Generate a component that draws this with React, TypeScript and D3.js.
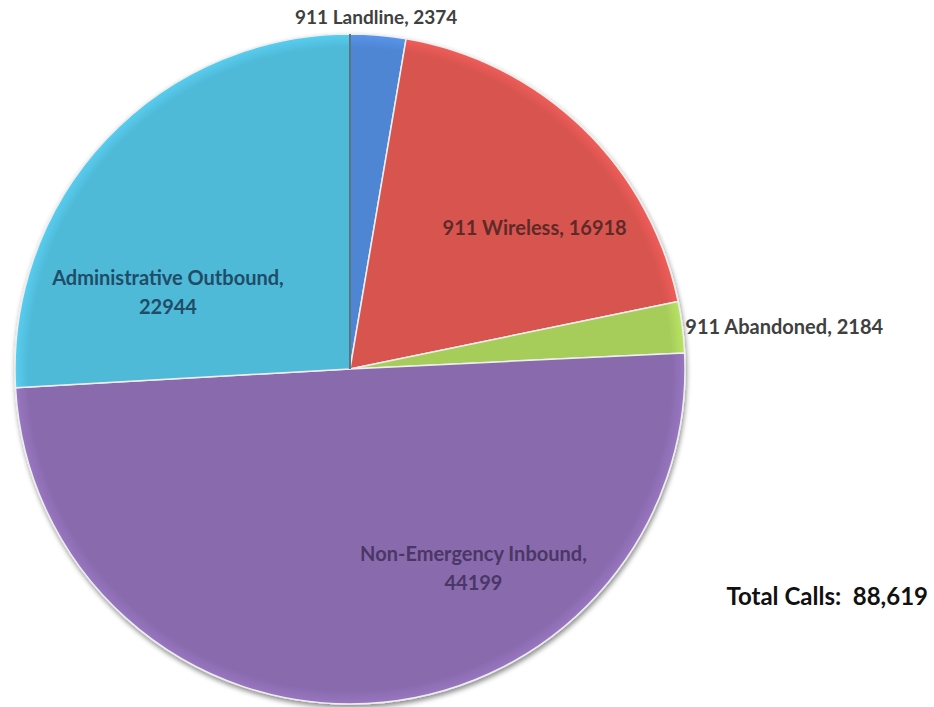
import React, { useEffect, useRef } from 'react';
import * as d3 from 'd3';

const categories = ['911 Landline', '911 Wireless', '911 Abandoned', 'Non-Emergency Inbound', 'Administrative Outbound'];
const calls = [2374, 16918, 2184, 44199, 22944];
const fills = ['#4f86d4', '#d8544f', '#a6cd5a', '#896aad', '#4fb9d8'];
const labelColors = ['#404040', '#5e2a28', '#404040', '#4a3766', '#1f4c66'];
const totalLabel = 'Total Calls:  88,619';

const WIDTH = 934;
const HEIGHT = 707;
const CX = 350;
const CY = 369;
const R = 335;

// label placement per slice: radius factor, dx, dy, anchor, font size, two lines?
const LABEL_SETUP: [number, number, number, string, number, boolean][] = [
  [1.0, -2, -11, 'middle', 19, false],
  [0.6, 45, 11, 'middle', 20, false],
  [1.0, 3, 7, 'start', 20, false],
  [0.6, 113, -9, 'middle', 20, true],
  [0.6, -36, 54, 'middle', 20, true],
];

const App = () => {
  const svgRef = useRef<SVGSVGElement | null>(null);

  useEffect(() => {
    if (!svgRef.current) return;
    const svg = d3.select(svgRef.current);
    svg.selectAll('*').remove();

    const data = categories.map((c, i) => ({ name: c, value: calls[i], i }));
    const pie = d3.pie<any>().sort(null).value(d => d.value);
    const arcs = pie(data);
    const arc = d3.arc<any>().innerRadius(0).outerRadius(R);

    const defs = svg.append('defs');
    const shadow = defs.append('filter').attr('id', 'shadow')
      .attr('filterUnits', 'userSpaceOnUse')
      .attr('x', -CX).attr('y', -CY).attr('width', WIDTH).attr('height', HEIGHT);
    shadow.append('feDropShadow').attr('dx', 1).attr('dy', 3).attr('stdDeviation', 2.5)
      .attr('flood-color', '#000').attr('flood-opacity', 0.45);

    fills.forEach((f, i) => {
      const g = defs.append('radialGradient').attr('id', `grad${i}`)
        .attr('gradientUnits', 'userSpaceOnUse')
        .attr('cx', 0).attr('cy', 0).attr('r', R);
      g.append('stop').attr('offset', '0%').attr('stop-color', f);
      g.append('stop').attr('offset', '96%').attr('stop-color', f);
      g.append('stop').attr('offset', '100%').attr('stop-color', d3.color(f)!.brighter(0.3).toString());
    });

    const chart = svg.append('g').attr('transform', `translate(${CX},${CY})`);

    chart.append('g')
      .attr('filter', 'url(#shadow)')
      .selectAll('path')
      .data(arcs)
      .enter()
      .append('path')
      .attr('d', arc)
      .attr('fill', (d: any) => `url(#grad${d.data.i})`)
      .attr('stroke', '#eeeeee')
      .attr('stroke-width', 1.5)
      .attr('stroke-linejoin', 'round');

    // dark edge along the top boundary between Administrative and Landline
    chart.append('line')
      .attr('x1', 0).attr('y1', 0).attr('x2', 0).attr('y2', -R)
      .attr('stroke', '#2f4f60').attr('stroke-width', 1.5);

    const labels = svg.append('g')
      .attr('font-family', 'Lato, "Open Sans", sans-serif')
      .attr('font-weight', 700);

    arcs.forEach((a: any, i) => {
      const [k, dx, dy, anchor, size, split] = LABEL_SETUP[i];
      const mid = (a.startAngle + a.endAngle) / 2;
      const x = CX + Math.sin(mid) * R * k + dx;
      const y = CY - Math.cos(mid) * R * k + dy;
      const t = labels.append('text')
        .attr('x', x)
        .attr('y', y)
        .attr('text-anchor', anchor)
        .attr('font-size', size)
        .attr('fill', labelColors[i]);
      if (split) {
        t.append('tspan').attr('x', x).attr('dy', 0).text(`${a.data.name},`);
        t.append('tspan').attr('x', x).attr('dy', 29).text(`${a.data.value}`);
      } else {
        t.text(`${a.data.name}, ${a.data.value}`);
      }
    });

    svg.append('text')
      .attr('x', 928)
      .attr('y', 605)
      .attr('text-anchor', 'end')
      .attr('font-family', 'Lato, "Open Sans", sans-serif')
      .attr('font-weight', 700)
      .attr('font-size', 24)
      .attr('fill', '#111')
      .style('white-space', 'pre')
      .text(totalLabel);
  }, []);

  return (
    <svg ref={svgRef} width={WIDTH} height={HEIGHT} style={{ position: 'absolute', left: 0, top: 0, background: '#fff' }} />
  );
};

export default App;
